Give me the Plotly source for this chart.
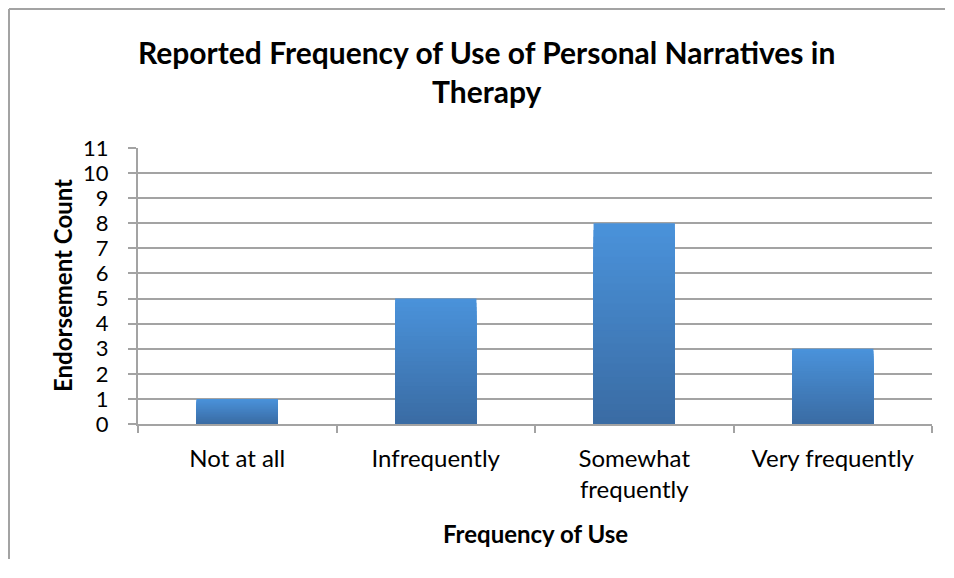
import plotly.graph_objects as go

categories = ["Not at all", "Infrequently", "Somewhat<br>frequently", "Very frequently"]
counts = [1, 5, 8, 3]

title_text = "Reported Frequency of Use of Personal Narratives in<br>Therapy"
x_title = "Frequency of Use"
y_title = "Endorsement Count"

# page body has an 8px margin, so the figure is sized to fit inside the window
W, H = 938, 552
L, R, T, B = 130, 14, 140, 136
pw, ph = W - L - R, H - T - B


def px_x(x):
    return (x - L) / pw


def px_y(y):
    return (H - B - y) / ph


font = "Lato, 'Open Sans', sans-serif"
grey = "#a3a3a3"

# Excel-style vertical gradient: light blue at the top, darker at the base
top_rgb = (74, 146, 218)
bottom_rgb = (58, 108, 164)
steps = 30

fig = go.Figure()
for k in range(steps):
    f = k / (steps - 1)
    c = tuple(round(a + (b - a) * f) for a, b in zip(top_rgb, bottom_rgb))
    frac = 1 - k / steps
    fig.add_trace(go.Bar(
        x=categories,
        y=[v * frac for v in counts],
        marker=dict(color="rgb(%d,%d,%d)" % c, line=dict(width=0)),
        hoverinfo="skip" if k else None,
        customdata=counts,
        hovertemplate="%{x}: %{customdata}<extra></extra>" if k == 0 else None,
    ))

fig.update_layout(
    width=W,
    height=H,
    margin=dict(l=L, r=R, t=T, b=B),
    paper_bgcolor="white",
    plot_bgcolor="white",
    barmode="overlay",
    bargap=0.59,
    showlegend=False,
    font=dict(family=font, size=24, color="#000000"),
    xaxis=dict(
        type="category",
        showgrid=False,
        showline=True,
        linecolor=grey,
        linewidth=2,
        ticks="outside",
        tickson="boundaries",
        ticklen=7,
        tickcolor=grey,
        tickwidth=2,
        ticklabelstandoff=12,
        tickfont=dict(size=24),
    ),
    yaxis=dict(
        range=[0, 11],
        dtick=1,
        showgrid=True,
        gridcolor=grey,
        gridwidth=2,
        showline=True,
        linecolor=grey,
        linewidth=2,
        ticks="outside",
        ticklen=8,
        tickcolor=grey,
        tickwidth=2,
        zeroline=False,
        ticklabelstandoff=15,
        tickfont=dict(size=22),
    ),
    shapes=[
        # chart-area frame: only the top and left edges fall inside the picture
        dict(type="line", xref="paper", yref="paper",
             x0=px_x(1), x1=px_x(W - 1), y0=px_y(1), y1=px_y(1),
             line=dict(color=grey, width=2), layer="below"),
        dict(type="line", xref="paper", yref="paper",
             x0=px_x(1), x1=px_x(1), y0=px_y(1), y1=px_y(H - 1),
             line=dict(color=grey, width=2), layer="below"),
    ],
    annotations=[
        dict(
            text="<b>" + title_text + "</b>", xref="paper", yref="paper",
            x=px_x(478), y=px_y(24), xanchor="center", yanchor="top",
            showarrow=False, font=dict(size=30),
        ),
        dict(
            text="<b>" + x_title + "</b>", xref="paper", yref="paper",
            x=px_x(527), y=px_y(525), xanchor="center", yanchor="middle",
            showarrow=False, font=dict(size=24),
        ),
        dict(
            text="<b>" + y_title + "</b>", xref="paper", yref="paper",
            x=px_x(54), y=px_y(278), xanchor="center", yanchor="middle",
            showarrow=False, textangle=-90, font=dict(size=24),
        ),
    ],
)

fig.write_html("out.html")
